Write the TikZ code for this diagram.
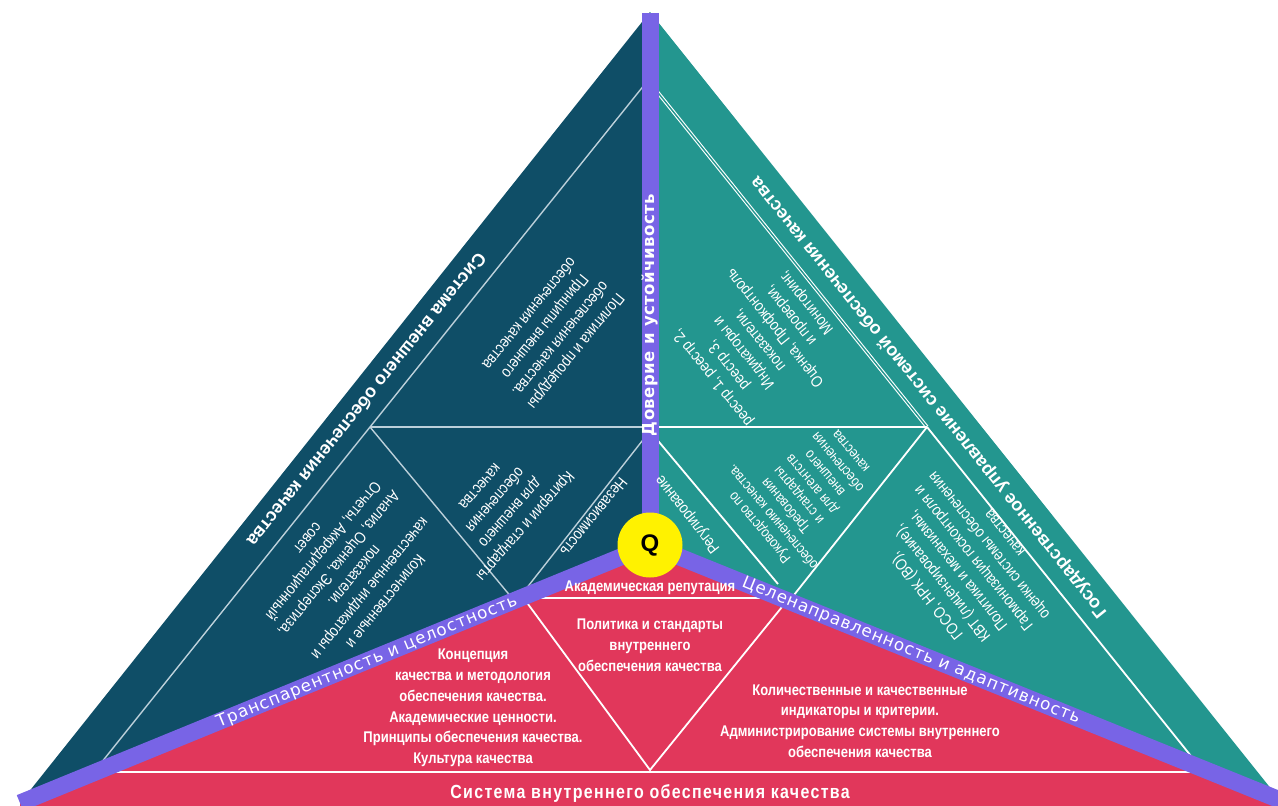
\documentclass[tikz,border=0pt]{standalone}
\usepackage{fontspec}
\setmainfont{Liberation Sans}
\newfontfamily\narrowfont[FakeStretch=0.84]{Liberation Sans}
\newfontfamily\widefont{DejaVu Sans}
\usetikzlibrary{positioning}
\definecolor{deepsea}{HTML}{0F4E67}
\definecolor{seagreen}{HTML}{23968F}
\definecolor{rosered}{HTML}{E1375B}
\definecolor{bandviolet}{HTML}{7864E6}
\definecolor{qyellow}{HTML}{FFF200}
\definecolor{paleline}{HTML}{BCD0DA}
\tikzset{
	band/.style={draw=bandviolet, line width=17pt}, % the three violet axes
	sepline/.style={draw=white, line width=1.8pt}, % white dividers
	paleline/.style={draw=paleline, line width=1.4pt}, % dividers on the dark side
	titletext/.style={text=white, font=\bfseries\fontsize{18}{20}\selectfont},
	axistext/.style={text=white, font=\widefont\fontsize{16.7}{18}\selectfont\addfontfeature{LetterSpace=6}},
	celltext/.style={text=white, align=center, font=\narrowfont\fontsize{16}{20}\selectfont},
	redtext/.style={text=white, align=center, font=\narrowfont\bfseries\fontsize{15.5}{20.8}\selectfont},
}

\begin{document}
\begin{tikzpicture}[x=1pt, y=-1pt]
	\useasboundingbox (0,0) rectangle (1278,806);
	% corners of the pyramid
	\coordinate (apex) at (650,12);
	\coordinate (q) at (650,545);
	\coordinate (lend) at (20,803);
	\coordinate (rend) at (1280,800);
	\coordinate (lfoot) at (20,806);
	\coordinate (rfoot) at (1280,806);
	% the three faces
	\fill[deepsea] (apex) -- (q) -- (lend) -- cycle;
	\fill[seagreen] (apex) -- (q) -- (rend) -- cycle;
	\fill[rosered] (q) -- (lend) -- (lfoot) -- (rfoot) -- (rend) -- cycle;

	% dividers, left face
	\coordinate (l1) at (645,84);
	\coordinate (l2) at (370,427);
	\coordinate (l3) at (97,768);
	\coordinate (l4) at (650,427);
	\coordinate (l5) at (512,598);
	\coordinate (l6) at (646,436);
	\coordinate (l7) at (522,594);
	\draw[paleline] (l1) -- (l2) -- (l3);
	\draw[paleline] (l2) -- (l4);
	\draw[paleline] (l2) -- (l5);
	\draw[paleline] (l6) -- (l7);

	% dividers, right face
	\coordinate (r1) at (655,89);
	\coordinate (r2) at (927,427);
	\coordinate (r3) at (1199,766);
	\coordinate (r4) at (650,427);
	\coordinate (r5) at (790,600);
	\coordinate (r6) at (654,436);
	\coordinate (r7) at (778,584);
	\draw[draw=white, line width=1.1pt, double=seagreen, double distance=1.4pt] (r1) -- (r2);
	\draw[sepline] (r2) -- (r3);
	\draw[sepline] (r2) -- (r4);
	\draw[sepline] (r2) -- (r5);
	\draw[sepline] (r6) -- (r7);

	% dividers, bottom face
	\coordinate (b1) at (530,598);
	\coordinate (b2) at (770,598);
	\coordinate (b3) at (525,600);
	\coordinate (b4) at (650,770);
	\coordinate (b5) at (786,602);
	\coordinate (b6) at (110,772);
	\coordinate (b7) at (1190,772);
	\draw[sepline] (b1) -- (b2);
	\draw[sepline] (b3) -- (b4) -- (b5);
	\draw[sepline] (b6) -- (b7);

	% violet axes
	\draw[band] (q) -- (650,13);
	\draw[band] (q) -- (lend);
	\draw[band] (q) -- (rend);
	\node[circle, fill=qyellow, minimum size=65pt, inner sep=0pt, font=\bfseries\fontsize{24}{24}\selectfont] (core) at (q) {Q};

	% axis labels
	\node[axistext, font=\widefont\bfseries\fontsize{16.5}{17}\selectfont\addfontfeature{LetterSpace=3}, rotate=90] (trust) at (650,315) {Доверие и устойчивость};
	\node[axistext, rotate=22.4] (transp) at (367,662) {Транспарентность и целостность};
	\node[axistext, rotate=-22.2] (purpose) at (911,651) {Целенаправленность и адаптивность};

	% face titles
	\node[titletext, rotate=231.3] (exttitle) at (367,400) {Система внешнего обеспечения качества};
	\node[titletext, rotate=128.7] (govtitle) at (929,397) {Государственное управление системой обеспечения качества};

	% left face cells
	\node[celltext, rotate=231] (extpolicy) at (553,333) {Политика и процедуры\\обеспечения качества.\\Принципы внешнего\\обеспечения качества};
	\node[celltext, rotate=229] (extcriteria) at (503,507) {Критерии и стандарты\\для внешнего\\обеспечения\\качества};
	\node[celltext, rotate=231] (independ) at (594,517) {Независимость};
	\node[celltext, rotate=231] (extreport) at (347,570) {Количественные и\\качественные индикаторы и\\показатели.\\Анализ, Оценка, Экспертиза,\\Отчеты, Аккредитационный\\совет};

	% right face cells
	\node[celltext, rotate=128.7] (registry) at (760,340) {реестр 1, реестр 2,\\реестр 3,\\Индикаторы и\\показатели,\\Оценка, Профконтроль\\и проверки,\\Мониторинг,};
	\node[celltext, font=\narrowfont\fontsize{14.5}{17}\selectfont, rotate=130] (guidance) at (805,490) {Руководство по\\обеспечению качества.\\Требования\\и стандарты\\для агентств\\внешнего\\обеспечения\\качества};
	\node[celltext, rotate=128] (regulate) at (688,514) {Регулирование};
	\node[celltext, rotate=128.7] (stateinst) at (965,565) {ГОСО, НРК (ВО),\\КВТ (лицензирование),\\Политика и механизмы,\\Гармонизация госконтроля и\\оценки системы обеспечения\\качества};

	% bottom face cells
	\node[redtext] (reputation) at (650,588) {Академическая репутация};
	\node[redtext] (intpolicy) at (650,645) {Политика и стандарты\\внутреннего\\обеспечения качества};
	\node[redtext] (concept) at (473,708) {Концепция\\качества и методология\\обеспечения качества.\\Академические ценности.\\Принципы обеспечения качества.\\Культура качества};
	\node[redtext] (indicators) at (860,721) {Количественные и качественные\\индикаторы и критерии.\\Администрирование системы внутреннего\\обеспечения качества};
	\node[text=white, font=\narrowfont\bfseries\fontsize{19}{20}\selectfont\addfontfeature{LetterSpace=7}] (inttitle) at (650,793) {Система внутреннего обеспечения качества};
\end{tikzpicture}
\end{document}
